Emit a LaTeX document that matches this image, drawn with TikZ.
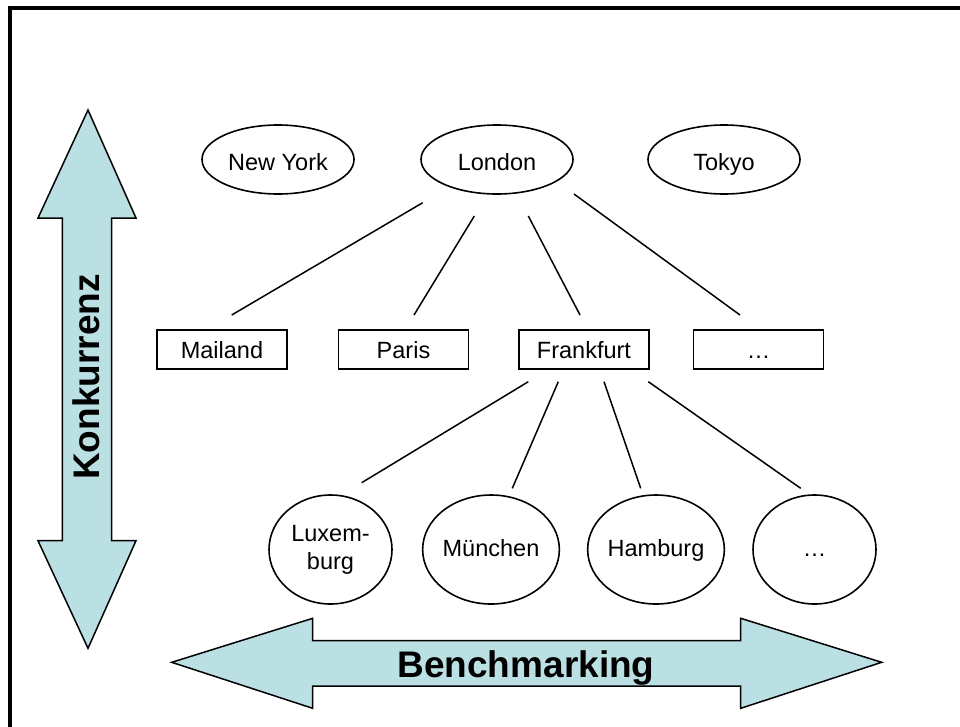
\documentclass[tikz,border=0pt]{standalone}
\usepackage{fontspec}
\setmainfont{Liberation Sans}
\usetikzlibrary{shapes.geometric,calc}
\definecolor{arrowfill}{RGB}{187,224,227}
\begin{document}
\begin{tikzpicture}[x=1pt,y=-1pt,
  lbl/.style={font=\fontsize{23.5}{28}\selectfont},
  oval/.style={lbl,draw,ellipse,line width=1.6pt,inner sep=0pt,minimum width=152pt,minimum height=69pt,text height=27pt,text depth=6pt},
  circ/.style={lbl,draw,ellipse,line width=1.6pt,inner sep=0pt,minimum width=123pt,minimum height=109pt,align=center},
  circone/.style={circ,text height=20pt,text depth=6pt},
  city/.style={lbl,draw,rectangle,line width=1.5pt,inner sep=0pt,minimum width=130pt,minimum height=39pt,text height=23.5pt,text depth=6pt},
  link/.style={line width=1.5pt},
  bigarrow/.style={draw,fill=arrowfill,line width=1.5pt,line join=miter},
  biglabel/.style={font=\bfseries\fontsize{37}{40}\selectfont}]
\useasboundingbox (0,0) rectangle (960,726);
\begin{scope}
\clip (0,0) rectangle (960,726);
\draw[line width=3.5pt] (10,8) rectangle (990,760);
\end{scope}
% top row
\node[oval] (ny) at (278,159.5) {New York};
\node[oval] (lon) at (497,159.5) {London};
\node[oval] (tok) at (724,159.5) {Tokyo};
% middle row
\node[city] (mai) at (222,349.5) {Mailand};
\node[city] (par) at (403.5,349.5) {Paris};
\node[city] (fra) at (584,349.5) {Frankfurt};
\node[city] (etca) at (758.5,349.5) {…};
% bottom row
\node[circ] (lux) at (330.5,549.5) {Luxem-\\burg};
\node[circone] (mue) at (491,549.5) {München};
\node[circone] (ham) at (656,549.5) {Hamburg};
\node[circone] (etcb) at (814.5,549.5) {…};
% connectors
\draw[link] ($(lon)+(-74.3,43.2)$) -- ($(mai)+(9.7,-34.5)$);
\draw[link] ($(lon)+(-22.7,56.5)$) -- ($(par)+(10.5,-34.5)$);
\draw[link] ($(lon)+(31.3,56.5)$) -- ($(fra)+(-4,-34.5)$);
\draw[link] ($(lon)+(77,34.5)$) -- ($(etca)+(-18.5,-34.5)$);
\draw[link] ($(fra)+(-55.7,32.2)$) -- ($(lux)+(31.2,-66.8)$);
\draw[link] ($(fra)+(-25.7,32.2)$) -- ($(mue)+(21.3,-61.2)$);
\draw[link] ($(fra)+(20,32.2)$) -- ($(ham)+(-15.3,-61.2)$);
\draw[link] ($(fra)+(64.3,32.2)$) -- ($(etcb)+(-13.8,-61.2)$);
% big arrows
\draw[bigarrow] (88,110) -- (136,218) -- (111.7,218) -- (111.7,540.7) -- (136,540.7) -- (88,648.3) -- (38,540.7) -- (62.3,540.7) -- (62.3,218) -- (38,218) -- cycle;
\node[biglabel,rotate=90] (konk) at (86,377) {Konkurrenz};
\draw[bigarrow] (171.7,662.3) -- (312.7,618.3) -- (312.7,640.7) -- (740.7,640.7) -- (740.7,618.3) -- (881.7,662.3) -- (740.7,708.3) -- (740.7,686) -- (312.7,686) -- (312.7,708.3) -- cycle;
\node[biglabel,anchor=base] (bench) at (526,677) {Benchmarking};
\end{tikzpicture}
\end{document}
